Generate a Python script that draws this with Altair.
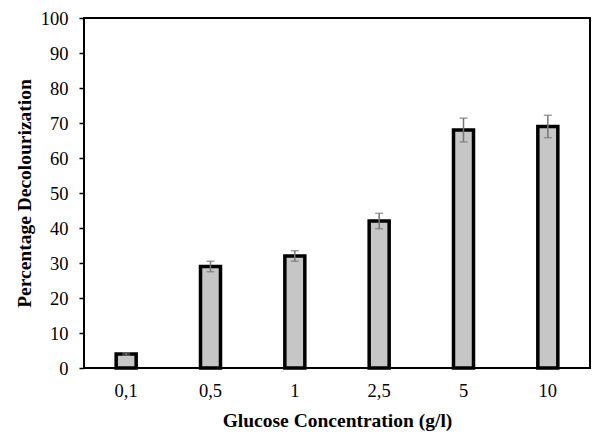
import altair as alt
import pandas as pd

categories = ["0,1", "0,5", "1", "2,5", "5", "10"]
values = [4, 29, 32, 42, 68, 69]
errors = [0.3, 1.5, 1.5, 2.2, 3.4, 3.2]

df = pd.DataFrame({"conc": categories, "val": values, "err": errors})
df["lo"] = df["val"] - df["err"]
df["hi"] = df["val"] + df["err"]

FONT = "Liberation Serif"

x_axis = alt.Axis(title="Glucose Concentration (g/l)", labelAngle=0,
                  ticks=False, domain=False, labelPadding=13, titlePadding=12)
y_axis = alt.Axis(title="Percentage  Decolourization", values=list(range(0, 101, 10)),
                  grid=False, tickSize=5, tickColor="black", tickWidth=1.5,
                  domain=False, labelPadding=11, titlePadding=6)
x_scale = alt.Scale(paddingInner=0.73, paddingOuter=0.365)
y_scale = alt.Scale(domain=[0, 100], nice=False)

bars = alt.Chart(df).mark_bar(fill="#c6c6c6", stroke="black", strokeWidth=3.5, size=20).encode(
    x=alt.X("conc:N", sort=categories, scale=x_scale, axis=x_axis),
    y=alt.Y("val:Q", scale=y_scale, axis=y_axis),
)

err = alt.Chart(df).mark_errorbar(ticks=alt.MarkConfig(size=8, color="#777777"),
                                  color="#777777", thickness=1.5).encode(
    x=alt.X("conc:N", sort=categories, scale=x_scale, axis=x_axis),
    y=alt.Y("lo:Q", scale=y_scale, axis=y_axis),
    y2="hi:Q",
)

chart = alt.layer(bars, err).properties(
    width=506, height=350,
    autosize=alt.AutoSizeParams(type="none"),
    padding={"left": 84, "top": 18, "right": 2, "bottom": 66},
).configure_view(stroke="black", strokeWidth=2).configure_axis(
    labelFont=FONT, titleFont=FONT, labelFontSize=18.5, titleFontSize=19.5,
    labelColor="black", titleColor="black", titleFontWeight="bold",
)

chart.save("out.html", embed_options={"renderer": "svg", "actions": False})
